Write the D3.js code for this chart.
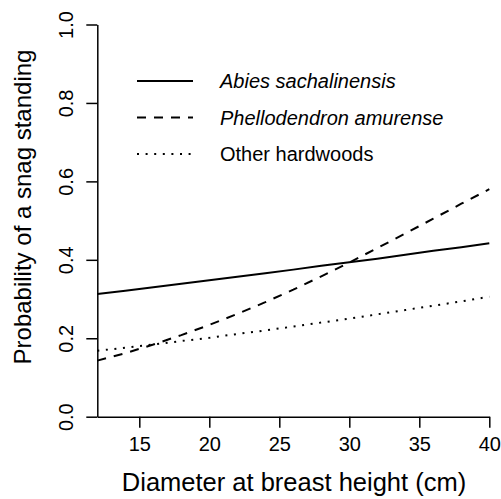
<!DOCTYPE html>
<html><head><meta charset="utf-8">
<script src="https://cdn.jsdelivr.net/npm/d3@7"></script>
<style>body{margin:0;background:#fff} svg text{font-family:"Liberation Sans",Arial,Helvetica,sans-serif;fill:#000}</style>
</head><body><svg id="c" width="501" height="499"></svg>
<script>
const dbh    = [12, 14, 16, 18, 20, 22, 24, 26, 28, 30, 32, 34, 36, 38, 40];
const abies  = [0.313, 0.321, 0.330, 0.339, 0.348, 0.357, 0.366, 0.375, 0.385, 0.394, 0.403, 0.413, 0.423, 0.432, 0.442];
const phello = [0.143, 0.162, 0.184, 0.208, 0.234, 0.262, 0.292, 0.324, 0.358, 0.393, 0.430, 0.467, 0.505, 0.543, 0.580];
const other  = [0.168, 0.176, 0.184, 0.193, 0.201, 0.211, 0.220, 0.230, 0.240, 0.250, 0.261, 0.272, 0.283, 0.294, 0.306];
const seriesNames = ["Abies sachalinensis", "Phellodendron amurense", "Other hardwoods"];
const xTicks = [15, 20, 25, 30, 35, 40];
const yTicks = [0.0, 0.2, 0.4, 0.6, 0.8, 1.0];
const xTitle = "Diameter at breast height (cm)";
const yTitle = "Probability of a snag standing";

const styles = [
  {dash: null, italic: true},
  {dash: "9,8", italic: true},
  {dash: "2,6.6", italic: false}
];

const svg = d3.select("#c");
const x = d3.scaleLinear().domain([12, 40]).range([97.3, 489.3]);
const y = d3.scaleLinear().domain([0, 1]).range([416.7, 24.5]);

// axes
const gx = svg.append("g").attr("transform", `translate(0,${y(0)})`)
  .call(d3.axisBottom(x).tickValues(xTicks).tickSize(11).tickSizeOuter(0).tickPadding(9).tickFormat(d3.format("d")));
gx.selectAll("text").style("font-size", "20px");
const gy = svg.append("g").attr("transform", `translate(${x(12)},0)`)
  .call(d3.axisLeft(y).tickValues(yTicks).tickSize(11).tickSizeOuter(0).tickFormat(d3.format(".1f")));
gy.selectAll("text").style("font-size", "20px")
  .attr("x", 0).attr("y", -24).attr("dy", null)
  .attr("text-anchor", "middle").attr("transform", "rotate(-90)");
svg.selectAll(".domain, .tick line").attr("stroke", "#000").attr("stroke-width", 1.5);

// lines
const line = d3.line().x((d, i) => x(dbh[i])).y(d => y(d));
[abies, phello, other].forEach((s, k) => {
  svg.append("path").datum(s).attr("d", line)
    .attr("fill", "none").attr("stroke", "#000").attr("stroke-width", 2)
    .attr("stroke-dasharray", styles[k].dash);
});

// legend
const legY = [81, 117.5, 154];
seriesNames.forEach((n, k) => {
  svg.append("line").attr("x1", 137).attr("x2", 193).attr("y1", legY[k]).attr("y2", legY[k])
    .attr("stroke", "#000").attr("stroke-width", 2).attr("stroke-dasharray", styles[k].dash);
  svg.append("text").attr("x", 220).attr("y", legY[k] + 7).style("font-size", "20px")
    .style("font-style", styles[k].italic ? "italic" : "normal").text(n);
});

// titles
svg.append("text").attr("x", 294).attr("y", 491).attr("text-anchor", "middle")
  .style("font-size", "25.5px").text(xTitle);
svg.append("text").attr("transform", "translate(31,207) rotate(-90)").attr("text-anchor", "middle")
  .style("font-size", "24px").text(yTitle);
</script>
</body></html>
